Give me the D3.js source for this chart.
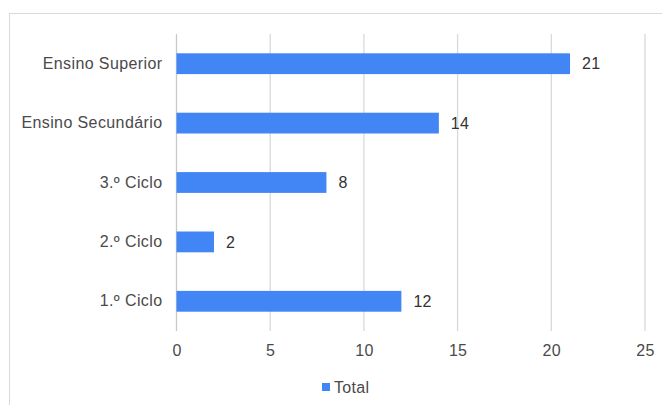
<!DOCTYPE html>
<html>
<head>
<meta charset="utf-8">
<script src="https://cdn.jsdelivr.net/npm/d3@7"></script>
<style>
  body { margin: 0; background: #fff; }
  svg text { font-family: Arial, "Liberation Sans", sans-serif; }
</style>
</head>
<body>
<div id="chart"></div>
<script>
// data
const categories = ['Ensino Superior', 'Ensino Secundário', '3.º Ciclo', '2.º Ciclo', '1.º Ciclo'];
const totals = [21, 14, 8, 2, 12];
const xTicks = [0, 5, 10, 15, 20, 25];
const seriesName = 'Total';

const w = 662;
const h = 405;

const svg = d3.select('#chart')
  .append('svg')
  .attr('width', w)
  .attr('height', h);

// outer frame (top + left only visible)
svg.append('rect')
  .attr('x', 9.5).attr('y', 13.5)
  .attr('width', 680).attr('height', 420)
  .attr('fill', 'none')
  .attr('stroke', '#d9d9d9');

const xScale = d3.scaleLinear().domain([0, 25]).range([176.5, 645]);
const yScale = d3.scaleBand().domain(categories).range([34, 331])
  .paddingInner(0.65).paddingOuter(0.325);

// gridlines
svg.append('g')
  .selectAll('line')
  .data(xTicks)
  .enter()
  .append('line')
  .attr('x1', d => xScale(d)).attr('x2', d => xScale(d))
  .attr('y1', 34).attr('y2', 331)
  .attr('stroke', d => d === 0 ? '#c8c8c8' : '#d9d9d9')
  .attr('stroke-width', 1.3);

// bars
svg.selectAll('rect.bar')
  .data(totals)
  .enter()
  .append('rect')
  .attr('class', 'bar')
  .attr('x', xScale(0))
  .attr('y', (d, i) => yScale(categories[i]))
  .attr('width', d => xScale(d) - xScale(0))
  .attr('height', yScale.bandwidth())
  .attr('fill', '#4285f4');

// value labels
svg.selectAll('text.val')
  .data(totals)
  .enter()
  .append('text')
  .attr('class', 'val')
  .attr('x', d => xScale(d) + 12)
  .attr('y', (d, i) => yScale(categories[i]) + yScale.bandwidth() / 2)
  .attr('dy', '0.36em')
  .attr('font-size', 16)
  .attr('letter-spacing', 0.3)
  .attr('fill', '#333')
  .text(d => d);

// y axis labels
const yAxis = d3.axisLeft(yScale).tickSize(0).tickPadding(14);
const gy = svg.append('g')
  .attr('transform', `translate(${xScale(0)},0)`)
  .call(yAxis);
gy.select('.domain').remove();
gy.selectAll('text')
  .attr('font-size', 16)
  .attr('letter-spacing', 0.4)
  .attr('font-family', 'Arial, "Liberation Sans", sans-serif')
  .attr('fill', '#4a4a4a');

// x axis labels
const xAxis = d3.axisBottom(xScale).tickValues(xTicks).tickSize(0).tickPadding(14);
const gx = svg.append('g')
  .attr('transform', 'translate(0,331)')
  .call(xAxis);
gx.select('.domain').remove();
gx.selectAll('text')
  .attr('font-size', 16)
  .attr('letter-spacing', 0.3)
  .attr('font-family', 'Arial, "Liberation Sans", sans-serif')
  .attr('fill', '#4a4a4a');

// legend
const legend = svg.append('g').attr('transform', 'translate(322,383)');
legend.append('rect')
  .attr('width', 8).attr('height', 8)
  .attr('fill', '#4285f4');
legend.append('text')
  .attr('x', 12).attr('y', 9.5)
  .attr('font-size', 16)
  .attr('letter-spacing', 0.3)
  .attr('fill', '#4a4a4a')
  .text(seriesName);
</script>
</body>
</html>
